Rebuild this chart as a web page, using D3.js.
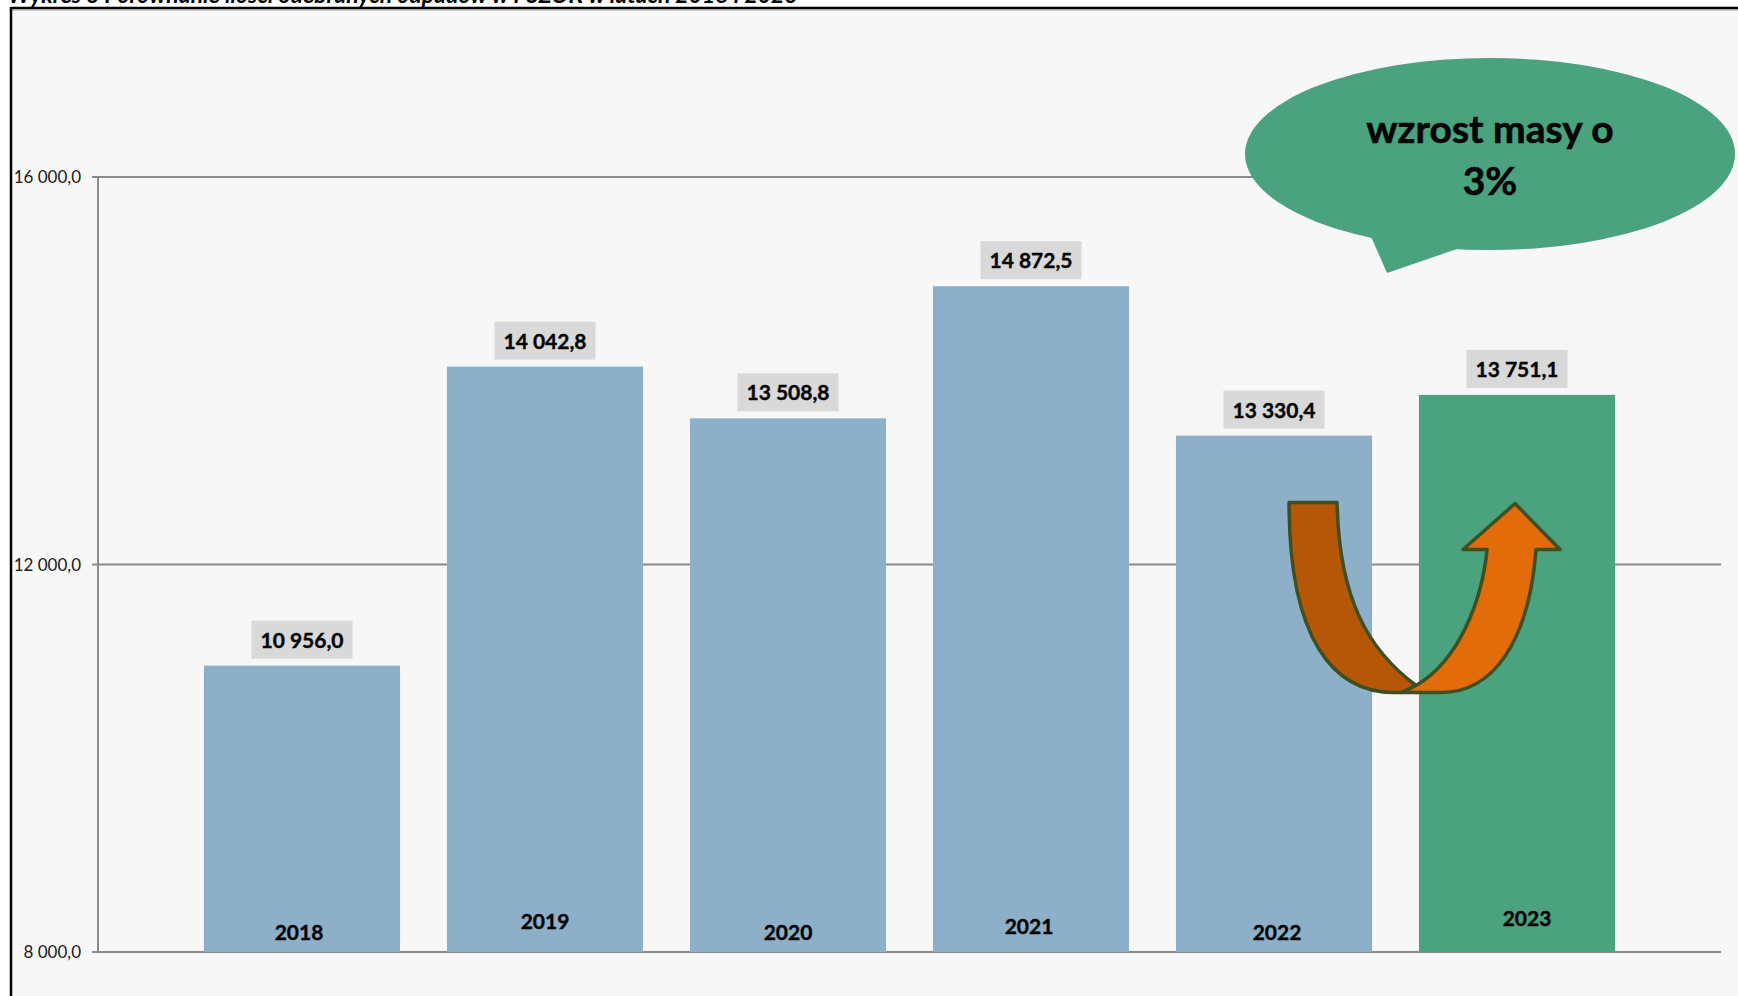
<!DOCTYPE html>
<html>
<head>
<meta charset="utf-8">
<script src="https://cdn.jsdelivr.net/npm/d3@7"></script>
<style>
  body { margin: 0; background: #ffffff; }
  svg { display: block; font-family: Lato, "Open Sans", sans-serif; }
  .grid line { stroke: #8a8a8a; stroke-width: 2; }
  .ytick text { font-size: 17px; fill: #1a1a1a; }
</style>
</head>
<body>
<svg id="canvas" width="1738" height="996"></svg>
<script>

var title = "Wykres 3 Porównanie ilości odebranych odpadów w PSZOK w latach 2018 i 2023";

var years = ["2018", "2019", "2020", "2021", "2022", "2023"];
var masses = [10956.0, 14042.8, 13508.8, 14872.5, 13330.4, 13751.1];
var yTicks = [8000, 12000, 16000];
var calloutLines = ["wzrost masy o", "3%"];

// year labels sit a bit unevenly in the original
var yearNudgeY = [0, -11, 0, -6, 0, -14];
var yearNudgeX = [-3, 0, 0, -2, 3, 10];

var svg = d3.select("#canvas");
var width = +svg.attr("width");
var height = +svg.attr("height");

var plot = {left: 98, right: 1721, top: 177, bottom: 952};

var fmt = function(v, digits) {
	var s = v.toFixed(digits).split(".");
	var intPart = s[0].replace(/\B(?=(\d{3})+(?!\d))/g, " ");
	return s.length > 1 ? intPart + "," + s[1] : intPart;
};

// chart frame
svg.append("rect")
	.attr("x", 11).attr("y", 8)
	.attr("width", width).attr("height", height)
	.attr("fill", "#f7f7f7");
svg.append("line")
	.attr("x1", 11).attr("x2", width).attr("y1", 8).attr("y2", 8)
	.attr("stroke", "#000").attr("stroke-width", 2.5);
svg.append("line")
	.attr("x1", 11).attr("x2", width).attr("y1", 10).attr("y2", 10)
	.attr("stroke", "#9a9a9a").attr("stroke-width", 1);
svg.append("line")
	.attr("x1", 11).attr("x2", 11).attr("y1", 7).attr("y2", height)
	.attr("stroke", "#000").attr("stroke-width", 2.5);

// title, mostly cut off above the frame (as in the original)
svg.append("text")
	.attr("x", 8).attr("y", 3)
	.style("font-weight", "bold")
	.style("font-style", "italic")
	.style("font-size", "23px")
	.text(title);

var x = d3.scaleBand()
	.domain(years)
	.range([180.5, 180.5 + 6 * 243])
	.paddingInner(0.193)
	.paddingOuter(0.0965);

var y = d3.scaleLinear()
	.domain([8000, 16000])
	.range([plot.bottom, plot.top]);

// grid + tick labels
var grid = svg.append("g").attr("class", "grid");
grid.selectAll("line")
	.data(yTicks)
	.enter().append("line")
	.attr("x1", plot.left - 6)
	.attr("x2", plot.right)
	.attr("y1", function(d) { return y(d); })
	.attr("y2", function(d) { return y(d); });

svg.append("line")
	.attr("x1", plot.left).attr("x2", plot.left)
	.attr("y1", y(16000)).attr("y2", y(8000))
	.attr("stroke", "#8a8a8a").attr("stroke-width", 2);

svg.append("g").attr("class", "ytick")
	.selectAll("text")
	.data(yTicks)
	.enter().append("text")
	.attr("x", 81)
	.attr("y", function(d) { return y(d) + 6; })
	.attr("text-anchor", "end")
	.text(function(d) { return fmt(d, 1); });

// bars
svg.append("g").selectAll("rect")
	.data(masses)
	.enter().append("rect")
	.attr("x", function(d, i) { return x(years[i]); })
	.attr("y", function(d) { return y(d); })
	.attr("width", x.bandwidth())
	.attr("height", function(d) { return y(8000) - y(d); })
	.attr("fill", function(d, i) { return i == years.length - 1 ? "#4aa27e" : "#8db0c8"; });

// value labels with grey boxes
var labels = svg.append("g").selectAll("g")
	.data(masses)
	.enter().append("g")
	.attr("transform", function(d, i) {
		return "translate(" + (x(years[i]) + x.bandwidth() / 2) + "," + (y(d) - 26) + ")";
	});

labels.append("rect").attr("fill", "#d9d9d9");
labels.append("text")
	.attr("text-anchor", "middle")
	.attr("y", 8)
	.style("font-weight", "bold")
	.style("font-size", "21px")
	.attr("fill", "#050505")
	.attr("stroke", "#050505")
	.attr("stroke-width", 0.4)
	.text(function(d) { return fmt(d, 1); });

labels.each(function() {
	var g = d3.select(this);
	var bb = g.select("text").node().getBBox();
	g.select("rect")
		.attr("x", bb.x - 9).attr("width", bb.width + 18)
		.attr("y", -19).attr("height", 38);
});

// year labels inside the bars
svg.append("g").selectAll("text")
	.data(years)
	.enter().append("text")
	.attr("x", function(d, i) { return x(d) + x.bandwidth() / 2 + yearNudgeX[i]; })
	.attr("y", function(d, i) { return plot.bottom - 12 + yearNudgeY[i]; })
	.attr("text-anchor", "middle")
	.style("font-weight", "bold")
	.style("font-size", "21px")
	.attr("fill", "#050505")
	.attr("stroke", "#050505")
	.attr("stroke-width", 0.4)
	.text(function(d) { return d; });

// U-turn arrow from 2022 to 2023
var ax = x("2022") + x.bandwidth();   // right edge of 2022 bar
var ay = y(12000);

var arrow = svg.append("g")
	.attr("transform", "translate(" + ax + "," + ay + ")")
	.attr("stroke", "#3f4f22")
	.attr("stroke-width", 3.5)
	.attr("stroke-linejoin", "round");

// coordinates relative to (right edge of 2022 bar, 12 000 gridline)
arrow.append("path")
	.attr("fill", "#b65708")
	.attr("d", "M-83,-62 L-35,-62 C-33,36 -3,86 44,121 L30,128 L22,128 " +
		"C-38,128 -83,76 -83,-62 Z");

arrow.append("path")
	.attr("fill", "#e36c0a")
	.attr("d", "M44,121 C87,96 110,36 115,-15 L91,-15 L143,-61 L188,-15 L164,-15 " +
		"C157,76 122,128 69,128 L30,128 Z");

// speech bubble
var bubble = svg.append("g");
bubble.append("path")
	.attr("fill", "#4aa27e")
	.attr("d", "M1369,232 L1387,273 L1457,249 Z");
bubble.append("ellipse")
	.attr("cx", 1490).attr("cy", 154)
	.attr("rx", 245).attr("ry", 96)
	.attr("fill", "#4aa27e");

bubble.selectAll("text")
	.data(calloutLines)
	.enter().append("text")
	.attr("x", 1490)
	.attr("y", function(d, i) { return 143 + i * 52; })
	.attr("text-anchor", "middle")
	.style("font-weight", "bold")
	.style("font-size", "39px")
	.attr("fill", "#050505")
	.attr("stroke", "#050505")
	.attr("stroke-width", 0.6)
	.text(function(d) { return d; });

</script>
</body>
</html>
